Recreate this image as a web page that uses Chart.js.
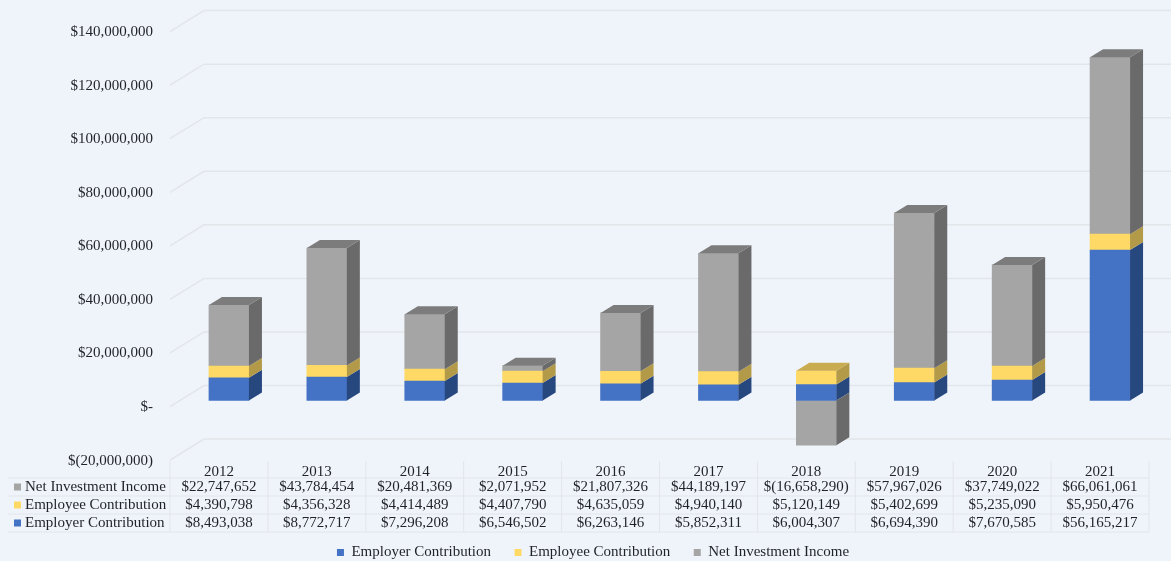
<!DOCTYPE html>
<html>
<head>
<meta charset="utf-8">
<title>Contributions and Investment Income</title>
<script src="https://cdn.jsdelivr.net/npm/chart.js@4/dist/chart.umd.js"></script>
<style>
  html, body { margin: 0; padding: 0; background: #eff4fb; }
  canvas { display: block; }
</style>
</head>
<body>
<canvas id="fundChart" width="1171" height="561"></canvas>
<script>
const years = ["2012", "2013", "2014", "2015", "2016", "2017", "2018", "2019", "2020", "2021"];
const employerContribution = [8493038, 8772717, 7296208, 6546502, 6263146, 5852311, 6004307, 6694390, 7670585, 56165217];
const employeeContribution = [4390798, 4356328, 4414489, 4407790, 4635059, 4940140, 5120149, 5402699, 5235090, 5950476];
const netInvestmentIncome = [22747652, 43784454, 20481369, 2071952, 21807326, 44189197, -16658290, 57967026, 37749022, 66061061];

const FONT = { family: "'Liberation Serif', serif", size: 15 };
const TEXT_COLOR = "#1f2226";
const GRID_COLOR = "#e2e5e9";

// accounting style: zero is a dash, negatives sit in brackets
function money(value) {
  if (value === 0) return "$-";
  const digits = Math.abs(value).toLocaleString("en-US");
  return value < 0 ? "$(" + digits + ")" : "$" + digits;
}

// back wall grid lines plus the short diagonals on the floor side
const wallGrid = {
  id: "wallGrid",
  beforeDatasetsDraw(chart) {
    const { ctx, scales, width } = chart;
    ctx.save();
    ctx.strokeStyle = GRID_COLOR;
    ctx.lineWidth = 1.5;
    scales.y.ticks.forEach((tick) => {
      const y = scales.y.getPixelForValue(tick.value);
      ctx.beginPath();
      ctx.moveTo(170, y + 6);
      ctx.lineTo(204, y - 15);
      ctx.lineTo(width, y - 15);
      ctx.stroke();
    });
    ctx.restore();
  },
};

// side and top faces of each bar, taken from the bar elements
const barDepth = {
  id: "barDepth",
  afterDatasetsDraw(chart) {
    const { ctx } = chart;
    const dx = 13;
    const dy = -8;
    ctx.save();
    chart.data.datasets.forEach((dataset, d) => {
      chart.getDatasetMeta(d).data.forEach((bar) => {
        const right = bar.x + bar.width / 2;
        ctx.fillStyle = dataset.sideColor;
        ctx.beginPath();
        ctx.moveTo(right, bar.y);
        ctx.lineTo(right + dx, bar.y + dy);
        ctx.lineTo(right + dx, bar.base + dy);
        ctx.lineTo(right, bar.base);
        ctx.closePath();
        ctx.fill();
      });
    });
    years.forEach((year, i) => {
      let top = null;
      let color = null;
      chart.data.datasets.forEach((dataset, d) => {
        const bar = chart.getDatasetMeta(d).data[i];
        if (dataset.data[i] > 0) {
          top = bar;
          color = dataset.topColor;
        }
      });
      const left = top.x - top.width / 2;
      ctx.fillStyle = color;
      ctx.beginPath();
      ctx.moveTo(left, top.y);
      ctx.lineTo(left + dx, top.y + dy);
      ctx.lineTo(left + top.width + dx, top.y + dy);
      ctx.lineTo(left + top.width, top.y);
      ctx.closePath();
      ctx.fill();
    });
    ctx.restore();
  },
};

// data table under the axis, net income on top
const dataTable = {
  id: "dataTable",
  afterDraw(chart) {
    const { ctx, scales } = chart;
    const rows = chart.data.datasets.slice().reverse();
    const rowTop = 478;
    const rowHeight = 18;
    const tableLeft = 8;
    const step = scales.x.getPixelForValue(1) - scales.x.getPixelForValue(0);
    const firstCol = scales.x.getPixelForValue(0) - 10 - step / 2;
    const tableRight = firstCol + step * years.length;

    ctx.save();
    ctx.strokeStyle = GRID_COLOR;
    ctx.lineWidth = 1;
    for (let r = 0; r <= rows.length; r++) {
      const y = rowTop + r * rowHeight;
      ctx.beginPath();
      ctx.moveTo(tableLeft, y);
      ctx.lineTo(tableRight, y);
      ctx.stroke();
    }
    for (let c = 0; c <= years.length; c++) {
      const x = firstCol + c * step;
      ctx.beginPath();
      ctx.moveTo(x, 461);
      ctx.lineTo(x, rowTop + rows.length * rowHeight);
      ctx.stroke();
    }

    ctx.font = FONT.size + "px " + FONT.family;
    ctx.textBaseline = "middle";
    rows.forEach((dataset, r) => {
      const y = rowTop + r * rowHeight + rowHeight / 2;
      ctx.fillStyle = dataset.backgroundColor;
      ctx.fillRect(14, y - 3.5, 7, 7);
      ctx.fillStyle = TEXT_COLOR;
      ctx.textAlign = "left";
      ctx.fillText(dataset.label, 25, y);
      ctx.textAlign = "center";
      dataset.data.forEach((value, i) => {
        ctx.fillText(money(value), scales.x.getPixelForValue(i) - 10, y);
      });
    });
    ctx.restore();
  },
};

new Chart(document.getElementById("fundChart"), {
  type: "bar",
  data: {
    labels: years,
    datasets: [
      { label: "Employer Contribution", data: employerContribution, backgroundColor: "#4472c4", sideColor: "#27477f", topColor: "#3a5f9f" },
      { label: "Employee Contribution", data: employeeContribution, backgroundColor: "#ffd966", sideColor: "#b39a48", topColor: "#c9ab50" },
      { label: "Net Investment Income", data: netInvestmentIncome, backgroundColor: "#a5a5a5", sideColor: "#6a6a6a", topColor: "#7c7c7c" },
    ],
  },
  plugins: [wallGrid, barDepth, dataTable],
  options: {
    responsive: false,
    animation: false,
    devicePixelRatio: 1,
    barThickness: 40,
    layout: { padding: { left: 27, right: 12, top: 25.6, bottom: -9 } },
    scales: {
      x: {
        stacked: true,
        grid: { display: false },
        border: { display: false },
        ticks: { font: FONT, color: TEXT_COLOR, padding: 0.9, labelOffset: -10, maxRotation: 0, autoSkip: false },
        afterFit(scale) { scale.height = 67.4; },
      },
      y: {
        stacked: true,
        min: -20000000,
        max: 140000000,
        grid: { display: false, drawTicks: true, tickLength: 27 },
        border: { display: false },
        ticks: { stepSize: 20000000, font: FONT, color: TEXT_COLOR, padding: 0, labelOffset: 6.5, callback: money },
        afterFit(scale) { scale.width = 153; },
      },
    },
    plugins: {
      tooltip: { enabled: false },
      legend: {
        position: "bottom",
        labels: { boxWidth: 7, boxHeight: 7, padding: 23.5, font: FONT, color: TEXT_COLOR },
      },
    },
  },
});
</script>
</body>
</html>
